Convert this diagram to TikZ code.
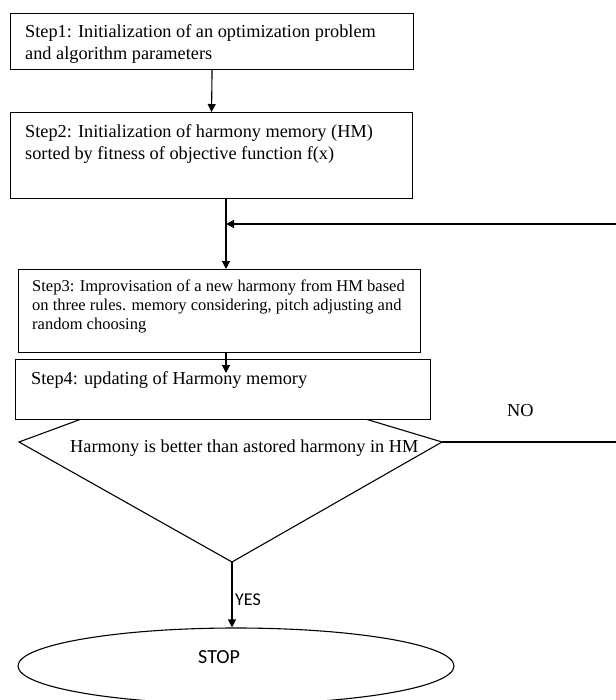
\documentclass[tikz,border=0pt]{standalone}
\usepackage{fontspec}
\setmainfont{Liberation Serif}
\newfontfamily\labelsans{Carlito}
\usetikzlibrary{arrows.meta,shapes.geometric}
\begin{document}
\begin{tikzpicture}[x=1pt,y=-1pt,
  box/.style={draw,line width=1.1pt,fill=white,inner sep=0pt,anchor=north west},
  txt/.style={inner sep=0pt,align=left,font=\fontsize{18.3}{22}\selectfont},
  sanslabel/.style={inner sep=0pt,anchor=base west},
  ln/.style={line width=1.1pt},
  arr/.style={line width=1.1pt,-{Triangle[length=8pt,width=8pt]}}]
\useasboundingbox (0,0) rectangle (615,700);
% boxes
\node[box,minimum width=403pt,minimum height=56pt] (b1) at (10,13) {};
\node[box,minimum width=402pt,minimum height=86pt] (b2) at (10,112) {};
\node[box,minimum width=402pt,minimum height=83pt] (b3) at (18,269) {};
% decision shape
\coordinate (dL) at (19,442);
\coordinate (dT) at (209,372);
\coordinate (dR) at (442,442);
\coordinate (dB) at (232,562);
\draw[ln,line join=miter] (dL) -- (dT) -- (dR) -- (dB) -- cycle;
\node[box,minimum width=415pt,minimum height=60pt] (b4) at (15,359) {};
% terminal
\node[draw,ellipse,line width=1.1pt,minimum width=436pt,minimum height=76pt,inner sep=0pt] (stop) at (236,666) {};
% helper coordinates
\coordinate (jx) at (226,224);
\coordinate (t4) at (226,373);
\coordinate (farR) at (640,442);
\coordinate (farT) at (640,224);
% connectors
\draw[arr] (b1.south) -- (b2.north);
\draw[ln] (b2.south -| jx) -- (jx);
\draw[arr] (jx) -- (b3.north -| jx);
\draw[arr] (b3.south -| jx) -- (t4);
\draw[ln] (dR) -- (farR) -- (farT);
\draw[arr] (farT) -- (jx);
\draw[arr] (dB) -- (dB |- stop.north);
% texts
\node[txt,anchor=north west] (t1) at (25,24.5) {Step1: Initialization of an optimization problem\\and algorithm parameters};
\node[txt,anchor=north west] (t2) at (25,124.3) {Step2: Initialization of harmony memory (HM)\\sorted by fitness of objective function f(x)};
\node[txt,anchor=north west,font=\fontsize{16.5}{19}\selectfont] (t3) at (32,279.7) {Step3: Improvisation of a new harmony from HM based\\on three rules. memory considering, pitch adjusting and\\random choosing};
\node[txt,anchor=base west] (t4txt) at (31,384) {Step4: updating of Harmony memory};
\node[txt,anchor=base west] (dtxt) at (70,452) {Harmony is better than astored harmony in HM};
\node[txt,anchor=base west] (no) at (507,416) {NO};
\node[sanslabel,font=\labelsans\fontsize{18}{20}\selectfont] (yes) at (235,605) {YES};
\node[sanslabel,font=\labelsans\fontsize{20}{24}\selectfont] (stoptxt) at (198,663) {STOP};
\end{tikzpicture}
\end{document}
